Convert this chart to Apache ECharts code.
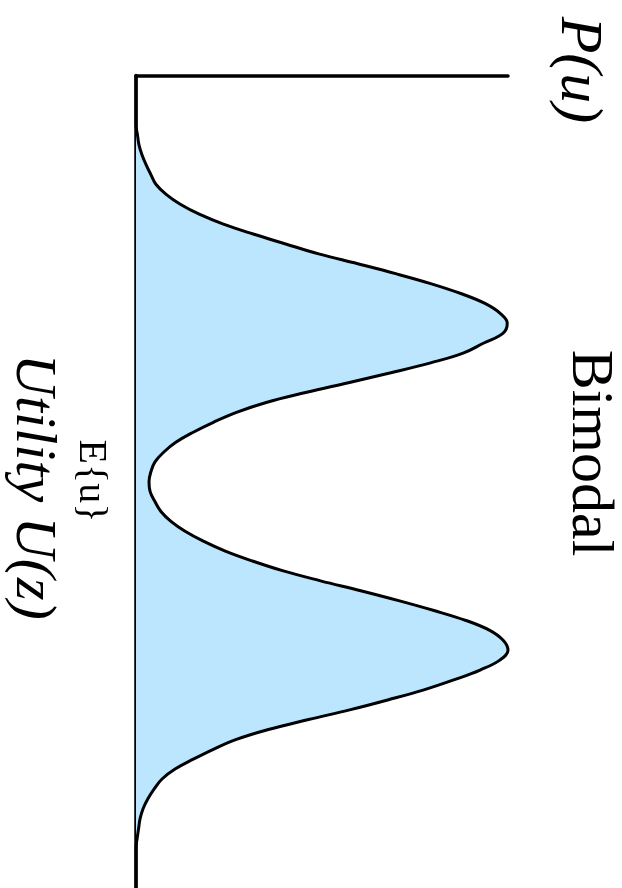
<!DOCTYPE html>
<html>
<head>
<meta charset="utf-8">
<script src="https://cdn.jsdelivr.net/npm/echarts@6/dist/echarts.min.js"></script>
<style>
html, body { margin: 0; padding: 0; background: #fff; }
#chart { width: 622px; height: 888px; }
</style>
</head>
<body>
<div id="chart"></div>
<script>
// utility samples, top to bottom (the figure is turned on its side)
var utility = [
	0.0, 0.1, 0.2, 0.3, 0.4, 0.5, 0.6, 0.7, 0.8, 0.9,
	1.0, 1.1, 1.2, 1.3, 1.4, 1.5, 1.6, 1.7, 1.8, 1.9,
	2.0, 2.1, 2.2, 2.3, 2.4, 2.5, 2.6, 2.7, 2.8, 2.9,
	3.0, 3.1, 3.2, 3.3, 3.4, 3.5, 3.6, 3.7, 3.8, 3.9,
	4.0, 4.1, 4.2, 4.3, 4.4, 4.5, 4.6, 4.7, 4.8, 4.9,
	5.0, 5.1, 5.2, 5.3, 5.4, 5.5, 5.6, 5.7, 5.8, 5.9,
	6.0, 6.1, 6.2, 6.3, 6.4, 6.5, 6.6, 6.7, 6.8, 6.9,
	7.0, 7.1, 7.2, 7.3, 7.4, 7.5, 7.6, 7.7, 7.8, 7.9,
	8.0, 8.1, 8.2
];

// P(u)
var density = [
	0, 0, 0, 0, 0, 0, 0.004, 0.008, 0.016, 0.027,
	0.040, 0.054, 0.081, 0.119, 0.170, 0.235, 0.315, 0.402, 0.491, 0.596,
	0.698, 0.792, 0.873, 0.938, 0.979, 0.998, 0.987, 0.935, 0.881, 0.792,
	0.685, 0.571, 0.456, 0.350, 0.270, 0.208, 0.154, 0.108, 0.075, 0.051,
	0.040, 0.035, 0.038, 0.051, 0.067, 0.094, 0.132, 0.181, 0.240, 0.313,
	0.396, 0.496, 0.604, 0.706, 0.801, 0.887, 0.951, 0.987, 1.000, 0.978,
	0.925, 0.854, 0.774, 0.679, 0.577, 0.464, 0.356, 0.270, 0.208, 0.154,
	0.105, 0.070, 0.049, 0.032, 0.019, 0.011, 0.007, 0.003, 0, 0,
	0, 0, 0
];

var serif = '"Liberation Serif", "Times New Roman", "DejaVu Serif", serif';

var chart = echarts.init(document.getElementById('chart'), null, { renderer: 'canvas' });

/*旋转的文字*/
function sideText(text, x, y, size, italic){
	return {
		type: 'text',
		x: x,
		y: y,
		rotation: -Math.PI / 2,
		style: {
			text: text,
			fontSize: size,
			fontFamily: serif,
			fontStyle: italic ? 'italic' : 'normal',
			fill: '#000',
			align: 'center',
			verticalAlign: 'middle'
		}
	};
}

var option = {
	backgroundColor: '#fff',
	animation: false,
	grid: {
		left: 136,
		right: 114,
		top: 75.5,
		height: 820
	},
	xAxis: {
		type: 'value',
		position: 'top',
		min: 0,
		max: 1,
		axisLine: { show: true, onZero: false, lineStyle: { color: '#000', width: 3.5 } },
		axisTick: { show: false },
		axisLabel: { show: false },
		splitLine: { show: false }
	},
	yAxis: {
		type: 'category',
		inverse: true,
		boundaryGap: false,
		data: utility,
		axisLine: { show: true, onZero: false, lineStyle: { color: '#000', width: 3.5 } },
		axisTick: { show: false },
		axisLabel: { show: false },
		splitLine: { show: false }
	},
	series: [{
		type: 'line',
		data: density,
		smooth: 0.4,
		showSymbol: false,
		lineStyle: { color: '#000', width: 3 },
		areaStyle: { color: '#bbe6fd', opacity: 1 }
	}],
	graphic: [
		sideText('P(u)', 578, 70, 60, true),
		sideText('Bimodal', 589, 453, 60, false),
		sideText('Utility U(z)', 32, 487, 58, true),
		sideText('E{u}', 90, 481, 40, false)
	]
};

chart.setOption(option);
</script>
</body>
</html>
